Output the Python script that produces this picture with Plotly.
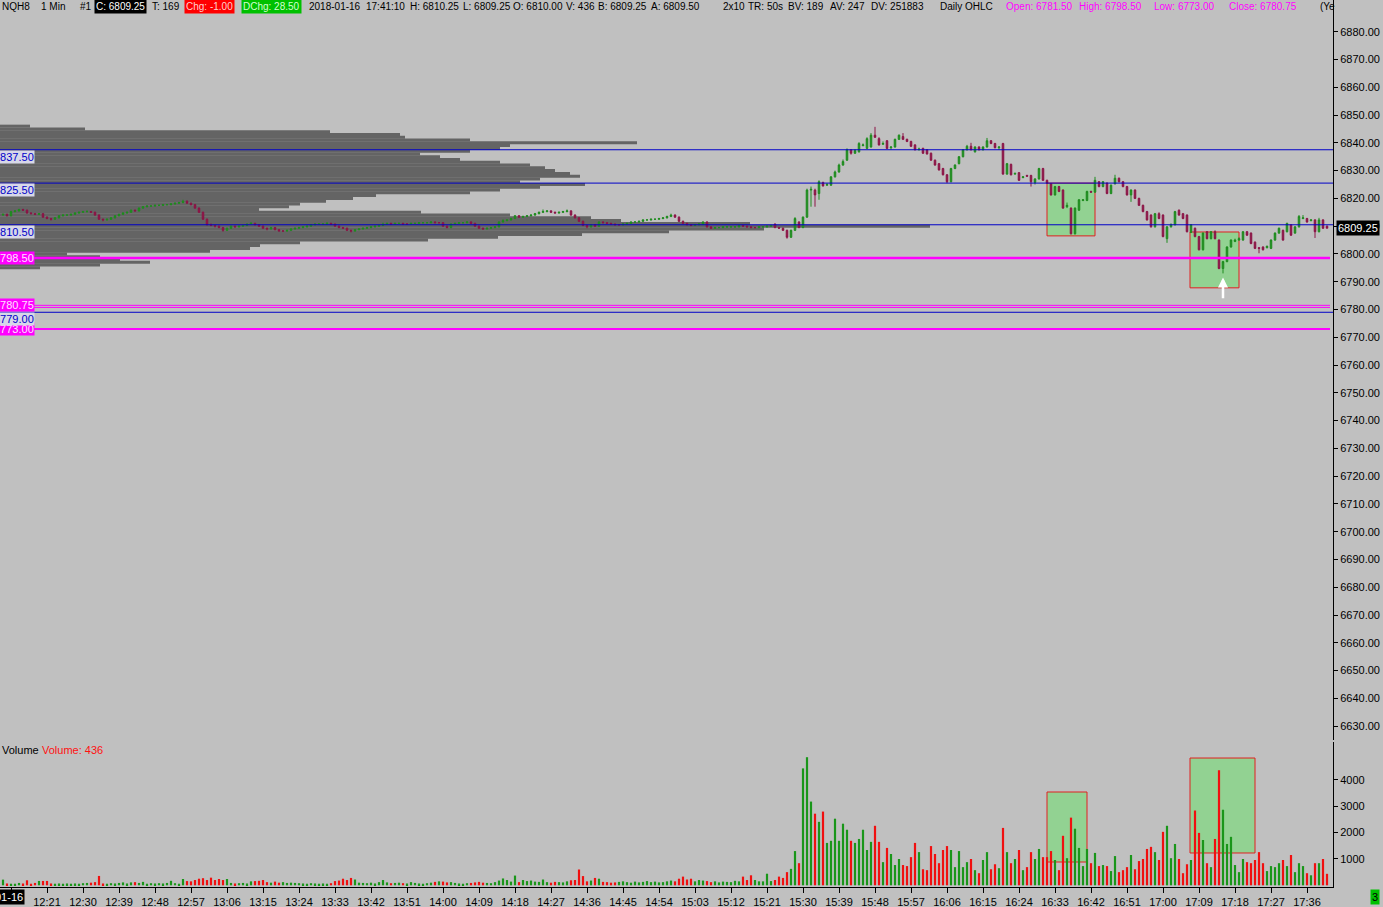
import plotly.graph_objects as go
import pandas as pd

# ---------------- data ----------------
SESSION_DATE = "2018-01-16"
FIRST_BAR = "12:10"          # first 1-minute bar shown

opens = [
 6814.0, 6814.25, 6813.75, 6815.25, 6815.5, 6816.0, 6815.75, 6814.75, 6814.5, 6814.25,
 6814.5, 6813.25, 6812.75, 6812.5, 6813.0, 6813.75, 6814.0, 6814.0, 6814.25, 6814.75,
 6815.0, 6815.25, 6815.25, 6815.0, 6814.0, 6812.5, 6812.25, 6812.5, 6813.0, 6813.75,
 6814.25, 6814.75, 6815.0, 6815.75, 6815.5, 6816.5, 6817.0, 6817.25, 6817.25, 6817.5,
 6817.5, 6817.75, 6817.75, 6818.0, 6818.25, 6818.5, 6819.0, 6818.25, 6817.75, 6816.5,
 6815.0, 6812.5, 6810.5, 6810.25, 6810.0, 6809.5, 6808.5, 6809.25, 6810.0, 6809.75,
 6810.0, 6810.25, 6810.75, 6811.0, 6810.5, 6810.0, 6809.25, 6809.0, 6809.5, 6808.75,
 6808.25, 6808.25, 6808.5, 6809.0, 6809.25, 6809.5, 6809.75, 6810.0, 6810.5, 6810.75,
 6810.75, 6810.75, 6811.0, 6810.75, 6810.0, 6809.5, 6809.25, 6808.5, 6808.25, 6808.75,
 6809.0, 6809.25, 6809.5, 6809.75, 6810.0, 6810.25, 6810.75, 6811.0, 6810.75, 6811.0,
 6811.0, 6810.75, 6810.75, 6811.0, 6811.0, 6811.25, 6811.25, 6811.25, 6811.5, 6811.25,
 6811.25, 6810.0, 6809.5, 6810.75, 6811.0, 6811.25, 6811.25, 6811.5, 6811.0, 6810.0,
 6809.25, 6809.0, 6809.25, 6809.5, 6809.75, 6811.5, 6812.0, 6812.25, 6812.75, 6813.75,
 6813.25, 6813.5, 6813.75, 6814.0, 6814.5, 6815.0, 6815.25, 6815.5, 6815.0, 6814.75,
 6815.0, 6815.25, 6815.5, 6814.0, 6813.0, 6811.75, 6810.25, 6809.75, 6810.5, 6810.0,
 6811.5, 6811.25, 6811.0, 6810.75, 6810.5, 6810.5, 6810.75, 6811.0, 6811.5, 6811.5,
 6811.75, 6812.25, 6812.25, 6812.5, 6812.5, 6812.75, 6813.0, 6813.5, 6814.0, 6813.25,
 6811.75, 6811.0, 6810.5, 6810.25, 6810.5, 6810.75, 6811.5, 6809.75, 6809.25, 6809.5,
 6809.5, 6809.75, 6809.75, 6809.75, 6809.75, 6810.25, 6810.0, 6809.75, 6809.5, 6809.5,
 6809.75, 6809.75, 6810.0,
 6810.75, 6809.5, 6809.25, 6808.5, 6806.0, 6808.5, 6811.5, 6809.5, 6813.25, 6823.0,
 6823.0, 6821.75, 6825.75, 6824.75, 6824.75, 6827.75, 6829.5, 6832.0, 6833.75, 6837.5,
 6836.25, 6836.75, 6839.0, 6838.0, 6838.5, 6842.75, 6841.5, 6839.5, 6840.75, 6838.25,
 6838.5, 6841.25, 6842.25, 6841.25, 6840.5, 6839.25, 6837.5, 6838.0, 6837.5, 6836.25,
 6833.75, 6832.5, 6830.75, 6828.5, 6826.0, 6830.75, 6832.5, 6835.0, 6837.5, 6838.75,
 6836.75, 6838.5, 6837.5, 6838.5, 6840.75, 6839.75, 6838.25, 6839.75, 6828.75, 6832.25,
 6828.75, 6829.25, 6827.5, 6828.25, 6828.25, 6825.75, 6827.0, 6830.75, 6826.5, 6825.25,
 6821.25, 6824.25, 6823.0, 6817.0, 6816.5, 6807.25, 6815.75, 6819.25, 6819.25, 6822.5,
 6822.25, 6826.0, 6824.25, 6825.5, 6821.75, 6825.25, 6827.25, 6826.0, 6824.25, 6821.25,
 6823.0, 6820.0, 6817.5, 6815.25, 6814.0, 6809.75, 6814.5, 6814.0, 6805.5, 6809.75,
 6810.5, 6815.75, 6814.5, 6814.0, 6807.75, 6809.25, 6806.25, 6801.5, 6808.0, 6805.5,
 6808.0, 6805.0, 6794.75, 6797.25, 6802.5, 6804.5, 6805.0, 6805.0, 6808.0, 6807.5,
 6804.25, 6802.25, 6802.5, 6802.25, 6802.0, 6805.0, 6807.5, 6808.5, 6808.0, 6810.5,
 6807.5, 6809.75, 6812.75, 6812.75, 6812.0, 6812.25, 6808.0, 6812.25, 6810.0,
]

highs = [
 6814.5, 6814.5, 6815.5, 6815.75, 6816.25, 6816.25, 6816.0, 6815.0, 6814.75, 6814.75,
 6814.75, 6813.5, 6813.0, 6813.25, 6814.0, 6814.25, 6814.25, 6814.5, 6815.0, 6815.25,
 6815.5, 6815.75, 6815.5, 6815.25, 6814.25, 6812.75, 6812.75, 6813.25, 6814.0, 6814.5,
 6815.0, 6815.25, 6816.0, 6816.0, 6816.75, 6817.25, 6817.5, 6817.5, 6817.75, 6817.75,
 6818.0, 6818.0, 6818.25, 6818.5, 6818.75, 6819.5, 6819.25, 6818.5, 6818.0, 6816.75,
 6815.25, 6812.75, 6811.0, 6810.5, 6810.25, 6809.75, 6809.5, 6810.25, 6810.25, 6810.25,
 6810.5, 6811.0, 6811.5, 6811.25, 6810.75, 6810.25, 6809.5, 6809.75, 6809.75, 6809.0,
 6808.5, 6808.75, 6809.25, 6809.5, 6809.75, 6810.0, 6810.25, 6810.75, 6811.0, 6811.0,
 6811.0, 6811.5, 6811.25, 6811.0, 6810.25, 6809.75, 6809.5, 6808.75, 6809.0, 6809.25,
 6809.5, 6809.75, 6810.0, 6810.25, 6810.5, 6811.25, 6811.25, 6811.25, 6811.25, 6811.25,
 6811.25, 6811.0, 6811.25, 6811.25, 6811.5, 6811.5, 6811.5, 6811.75, 6811.75, 6811.5,
 6811.5, 6810.25, 6811.0, 6811.25, 6811.5, 6811.5, 6811.75, 6811.75, 6811.25, 6810.25,
 6809.5, 6809.5, 6809.75, 6810.0, 6811.75, 6812.5, 6812.5, 6813.0, 6814.0, 6814.0,
 6813.75, 6814.0, 6814.25, 6814.75, 6815.25, 6816.0, 6815.75, 6815.75, 6815.25, 6815.25,
 6815.5, 6816.0, 6815.75, 6814.25, 6813.25, 6812.0, 6810.5, 6810.75, 6810.75, 6811.75,
 6811.75, 6811.5, 6811.25, 6811.0, 6810.75, 6811.0, 6811.25, 6811.75, 6811.75, 6812.0,
 6812.5, 6812.5, 6812.75, 6812.75, 6813.0, 6813.25, 6813.75, 6814.5, 6814.25, 6813.5,
 6812.0, 6811.25, 6810.75, 6810.75, 6811.0, 6811.75, 6811.75, 6810.0, 6809.75, 6809.75,
 6810.0, 6810.0, 6810.0, 6810.0, 6810.5, 6810.5, 6810.25, 6810.0, 6809.75, 6810.0,
 6810.0, 6810.25, 6810.5,
 6811.0, 6809.75, 6809.5, 6808.75, 6808.75, 6813.25, 6811.75, 6813.5, 6823.5, 6824.25,
 6823.5, 6826.5, 6826.0, 6825.5, 6828.0, 6830.0, 6832.5, 6834.0, 6838.0, 6837.75,
 6837.75, 6840.25, 6839.75, 6842.0, 6843.5, 6845.75, 6842.0, 6840.5, 6841.0, 6838.75,
 6841.5, 6843.0, 6843.5, 6841.5, 6840.75, 6839.5, 6838.25, 6838.25, 6837.75, 6836.5,
 6834.0, 6832.75, 6831.0, 6828.75, 6831.0, 6832.25, 6835.25, 6837.75, 6839.25, 6840.0,
 6838.75, 6838.75, 6838.75, 6841.75, 6841.0, 6840.0, 6838.75, 6840.0, 6832.75, 6832.5,
 6829.25, 6829.5, 6828.0, 6828.5, 6828.5, 6827.25, 6831.0, 6831.0, 6826.75, 6825.5,
 6824.5, 6824.5, 6823.25, 6818.5, 6816.75, 6816.75, 6819.75, 6819.75, 6822.75, 6822.75,
 6827.75, 6826.25, 6826.25, 6825.75, 6825.0, 6828.5, 6827.5, 6826.25, 6824.5, 6823.25,
 6823.25, 6820.25, 6817.75, 6815.5, 6814.25, 6814.75, 6815.0, 6814.25, 6810.0, 6811.0,
 6815.5, 6816.0, 6814.75, 6814.25, 6810.75, 6809.5, 6806.5, 6807.75, 6808.25, 6808.25,
 6808.5, 6805.25, 6797.5, 6802.75, 6805.25, 6805.5, 6806.0, 6808.25, 6808.25, 6807.75,
 6804.5, 6802.5, 6802.75, 6803.0, 6805.25, 6807.75, 6809.5, 6808.75, 6811.25, 6810.75,
 6810.0, 6814.0, 6814.0, 6813.0, 6812.5, 6812.5, 6813.0, 6812.5, 6810.25,
]

lows = [
 6813.75, 6813.5, 6813.5, 6815.0, 6815.25, 6815.5, 6814.5, 6814.25, 6814.0, 6814.0,
 6813.0, 6812.5, 6812.0, 6812.25, 6812.75, 6813.5, 6813.75, 6813.75, 6814.0, 6814.5,
 6814.75, 6815.0, 6814.75, 6813.75, 6812.25, 6811.75, 6812.0, 6812.25, 6812.75, 6813.5,
 6814.0, 6814.5, 6814.75, 6815.25, 6815.25, 6816.25, 6816.75, 6817.0, 6817.0, 6817.25,
 6817.25, 6817.5, 6817.5, 6817.75, 6818.0, 6818.25, 6818.0, 6817.5, 6816.25, 6814.75,
 6812.25, 6810.25, 6810.0, 6809.5, 6809.25, 6808.0, 6808.25, 6809.0, 6809.5, 6809.5,
 6809.75, 6810.0, 6810.5, 6810.25, 6809.75, 6809.0, 6808.5, 6808.75, 6808.5, 6808.0,
 6808.0, 6808.0, 6808.25, 6808.75, 6809.0, 6809.25, 6809.5, 6809.75, 6810.25, 6810.5,
 6810.5, 6810.5, 6810.5, 6809.75, 6809.25, 6809.0, 6808.25, 6807.75, 6808.0, 6808.5,
 6808.75, 6809.0, 6809.25, 6809.5, 6809.75, 6810.0, 6810.5, 6810.5, 6810.5, 6810.75,
 6810.5, 6810.5, 6810.5, 6810.75, 6810.75, 6811.0, 6811.0, 6811.0, 6811.0, 6811.0,
 6809.75, 6809.25, 6809.25, 6810.5, 6810.75, 6811.0, 6811.0, 6810.75, 6809.75, 6809.0,
 6808.75, 6808.75, 6809.0, 6809.25, 6809.5, 6811.25, 6811.75, 6812.0, 6812.5, 6813.0,
 6813.0, 6813.25, 6813.5, 6813.75, 6814.25, 6814.75, 6815.0, 6814.75, 6814.5, 6814.5,
 6814.75, 6815.0, 6813.75, 6812.75, 6811.5, 6810.0, 6809.25, 6809.5, 6809.75, 6809.75,
 6811.0, 6810.75, 6810.5, 6810.25, 6810.25, 6810.25, 6810.5, 6810.75, 6811.25, 6811.25,
 6811.5, 6812.0, 6812.0, 6812.25, 6812.25, 6812.5, 6812.75, 6813.25, 6813.0, 6811.5,
 6810.75, 6810.25, 6810.0, 6810.0, 6810.25, 6810.5, 6809.5, 6809.0, 6809.0, 6809.25,
 6809.25, 6809.5, 6809.5, 6809.5, 6809.5, 6809.75, 6809.5, 6809.25, 6809.25, 6809.25,
 6809.5, 6809.5, 6809.75,
 6809.25, 6809.0, 6808.25, 6805.5, 6805.75, 6808.25, 6809.25, 6809.25, 6813.0, 6817.0,
 6817.0, 6819.5, 6824.25, 6824.5, 6824.5, 6827.5, 6829.25, 6831.75, 6833.5, 6835.75,
 6836.0, 6836.5, 6838.75, 6837.75, 6838.25, 6841.75, 6839.0, 6839.25, 6837.75, 6837.5,
 6838.25, 6841.0, 6841.0, 6840.25, 6838.5, 6837.25, 6837.25, 6836.0, 6835.75, 6833.5,
 6831.75, 6830.0, 6828.25, 6825.5, 6825.75, 6830.5, 6832.25, 6834.75, 6837.25, 6837.25,
 6836.5, 6837.25, 6837.25, 6838.25, 6839.5, 6838.0, 6837.5, 6828.5, 6828.5, 6828.25,
 6828.5, 6826.25, 6827.25, 6827.75, 6824.25, 6825.0, 6826.75, 6826.25, 6825.25, 6821.0,
 6821.0, 6822.25, 6816.25, 6816.5, 6807.0, 6807.0, 6815.5, 6819.0, 6819.0, 6822.0,
 6822.0, 6824.0, 6824.0, 6821.5, 6821.5, 6825.0, 6825.75, 6824.0, 6821.0, 6818.75,
 6819.75, 6817.25, 6815.0, 6812.0, 6809.5, 6809.5, 6812.5, 6806.0, 6804.0, 6809.5,
 6810.25, 6813.75, 6812.5, 6807.75, 6807.5, 6806.0, 6801.25, 6801.25, 6805.25, 6805.25,
 6805.25, 6794.5, 6793.0, 6797.0, 6802.25, 6804.25, 6804.75, 6804.75, 6806.5, 6803.5,
 6801.75, 6800.25, 6801.25, 6802.0, 6801.75, 6804.75, 6807.25, 6804.75, 6807.75, 6806.5,
 6807.25, 6809.5, 6812.5, 6811.25, 6811.75, 6805.75, 6807.75, 6809.0, 6809.25,
]

closes = [
 6814.25, 6813.75, 6815.25, 6815.5, 6816.0, 6815.75, 6814.75, 6814.5, 6814.25, 6814.5,
 6813.25, 6812.75, 6812.5, 6813.0, 6813.75, 6814.0, 6814.0, 6814.25, 6814.75, 6815.0,
 6815.25, 6815.25, 6815.0, 6814.0, 6812.5, 6812.25, 6812.5, 6813.0, 6813.75, 6814.25,
 6814.75, 6815.0, 6815.75, 6815.5, 6816.5, 6817.0, 6817.25, 6817.25, 6817.5, 6817.5,
 6817.75, 6817.75, 6818.0, 6818.25, 6818.5, 6819.0, 6818.25, 6817.75, 6816.5, 6815.0,
 6812.5, 6810.5, 6810.25, 6810.0, 6809.5, 6808.5, 6809.25, 6810.0, 6809.75, 6810.0,
 6810.25, 6810.75, 6811.0, 6810.5, 6810.0, 6809.25, 6809.0, 6809.5, 6808.75, 6808.25,
 6808.25, 6808.5, 6809.0, 6809.25, 6809.5, 6809.75, 6810.0, 6810.5, 6810.75, 6810.75,
 6810.75, 6811.0, 6810.75, 6810.0, 6809.5, 6809.25, 6808.5, 6808.25, 6808.75, 6809.0,
 6809.25, 6809.5, 6809.75, 6810.0, 6810.25, 6810.75, 6811.0, 6810.75, 6811.0, 6811.0,
 6810.75, 6810.75, 6811.0, 6811.0, 6811.25, 6811.25, 6811.25, 6811.5, 6811.25, 6811.25,
 6810.0, 6809.5, 6810.75, 6811.0, 6811.25, 6811.25, 6811.5, 6811.0, 6810.0, 6809.25,
 6809.0, 6809.25, 6809.5, 6809.75, 6811.5, 6812.0, 6812.25, 6812.75, 6813.75, 6813.25,
 6813.5, 6813.75, 6814.0, 6814.5, 6815.0, 6815.25, 6815.5, 6815.0, 6814.75, 6815.0,
 6815.25, 6815.5, 6814.0, 6813.0, 6811.75, 6810.25, 6809.75, 6810.5, 6810.0, 6811.5,
 6811.25, 6811.0, 6810.75, 6810.5, 6810.5, 6810.75, 6811.0, 6811.5, 6811.5, 6811.75,
 6812.25, 6812.25, 6812.5, 6812.5, 6812.75, 6813.0, 6813.5, 6814.0, 6813.25, 6811.75,
 6811.0, 6810.5, 6810.25, 6810.5, 6810.75, 6811.5, 6809.75, 6809.25, 6809.5, 6809.5,
 6809.75, 6809.75, 6809.75, 6809.75, 6810.25, 6810.0, 6809.75, 6809.5, 6809.5, 6809.75,
 6809.75, 6810.0, 6810.25,
 6809.5, 6809.25, 6808.5, 6806.0, 6808.5, 6812.75, 6809.5, 6813.25, 6823.0, 6823.25,
 6821.25, 6826.0, 6824.5, 6825.0, 6827.75, 6829.5, 6832.0, 6833.25, 6837.5, 6836.25,
 6837.25, 6839.75, 6839.25, 6841.5, 6842.75, 6842.0, 6839.25, 6839.75, 6838.0, 6838.5,
 6841.25, 6842.75, 6841.25, 6840.5, 6838.75, 6837.5, 6837.75, 6836.25, 6836.0, 6833.75,
 6832.0, 6830.25, 6828.5, 6826.0, 6830.75, 6832.0, 6835.0, 6837.5, 6838.75, 6837.5,
 6838.5, 6837.5, 6838.5, 6840.75, 6839.75, 6838.25, 6838.5, 6828.75, 6832.5, 6828.5,
 6829.0, 6826.5, 6827.75, 6828.0, 6826.0, 6827.0, 6830.75, 6826.5, 6825.5, 6821.25,
 6824.25, 6822.5, 6816.5, 6817.5, 6807.25, 6816.5, 6819.5, 6819.5, 6822.5, 6822.25,
 6826.5, 6824.25, 6826.0, 6821.75, 6824.75, 6827.25, 6826.0, 6824.25, 6821.25, 6823.0,
 6820.0, 6817.5, 6815.25, 6812.25, 6809.75, 6814.5, 6812.75, 6806.25, 6809.75, 6810.5,
 6815.25, 6814.0, 6812.75, 6808.0, 6810.5, 6806.25, 6801.5, 6807.5, 6805.5, 6808.0,
 6805.5, 6794.75, 6797.25, 6802.5, 6805.0, 6805.0, 6805.5, 6808.0, 6806.75, 6803.75,
 6802.0, 6802.0, 6801.5, 6802.75, 6805.0, 6807.5, 6809.25, 6805.0, 6811.0, 6806.75,
 6809.75, 6813.5, 6813.0, 6811.5, 6812.25, 6808.0, 6812.25, 6809.25, 6809.25,
]

volumes = [
 215, 70, 60, 60, 90, 70, 190, 60, 90, 165,
 165, 165, 70, 60, 70, 60, 70, 60, 70, 60,
 80, 90, 100, 120, 355, 70, 60, 80, 70, 90,
 110, 70, 110, 120, 90, 130, 60, 80, 70, 80,
 70, 90, 170, 80, 60, 240, 160, 150, 200, 250,
 270, 200, 290, 200, 240, 200, 240, 90, 70, 80,
 90, 70, 150, 160, 170, 200, 120, 100, 140, 100,
 120, 90, 100, 90, 80, 70, 60, 80, 70, 60,
 70, 60, 80, 160, 180, 250, 200, 280, 220, 100,
 90, 80, 100, 70, 120, 200, 110, 80, 90, 100,
 80, 70, 120, 90, 70, 60, 80, 100, 130, 150,
 140, 110, 120, 90, 70, 60, 80, 90, 110, 130,
 100, 90, 80, 120, 180, 260, 200, 140, 370, 120,
 200, 160, 180, 140, 130, 220, 120, 100, 130, 120,
 110, 150, 190, 200, 600, 350, 150, 180, 280, 250,
 130, 120, 100, 110, 130, 150, 120, 100, 140, 110,
 130, 160, 120, 140, 110, 120, 150, 180, 150, 250,
 330, 220, 250, 150, 200, 180, 160, 120, 150, 110,
 140, 130, 120, 170, 150, 330, 200, 380, 200, 150,
 150, 440, 160, 200, 330,
 280, 500, 625, 1300, 840, 4440, 4865, 3180, 2720, 2410,
 2800, 1610, 1690, 2530, 1690, 2340, 2110, 1690, 1610, 1760,
 2110, 1340, 1650, 2260, 1650, 880, 1420, 1190, 770, 1000,
 770, 730, 1070, 1610, 1260, 610, 575, 1490, 1190, 840,
 1340, 1490, 1340, 690, 1300, 690, 880, 1000, 575, 460,
 960, 1260, 610, 800, 650, 2180, 1260, 840, 1000, 1340,
 575, 690, 1260, 1000, 1380, 1070, 1070, 1300, 960, 575,
 1880, 1030, 2570, 2150, 1420, 730, 1380, 840, 1230, 730,
 770, 730, 540, 1110, 500, 575, 690, 1150, 610, 920,
 1000, 1380, 1460, 1260, 960, 2030, 2260, 1030, 1570, 1000,
 460, 800, 960, 2840, 1990, 1720, 840, 690, 1760, 4370,
 2870, 1570, 1840, 770, 500, 1000, 880, 840, 960, 1260,
 840, 540, 730, 690, 840, 960, 730, 1150, 500, 840,
 730, 460, 380, 840, 840, 1000, 436,
]

# volume-at-price profile (price row, relative traded volume)
profile_prices = [
 6846, 6845, 6844, 6843, 6842, 6841, 6840, 6839, 6838, 6837,
 6836, 6835, 6834, 6833, 6832, 6831, 6830, 6829, 6828, 6827,
 6826, 6825, 6824, 6823, 6822, 6821, 6820, 6819, 6818, 6817,
 6816, 6815, 6814, 6813, 6812, 6811, 6810, 6809, 6808, 6807,
 6806, 6805, 6804, 6803, 6802, 6801, 6800, 6799, 6798, 6797,
 6796, 6795,
]
profile_volume = [
 30, 85, 330, 400, 405, 470, 637, 510, 500, 470,
 420, 440, 460, 500, 530, 545, 555, 570, 580, 540,
 520, 585, 540, 500, 470, 376, 353, 326, 300, 289,
 259, 421, 510, 591, 621, 750, 930, 764, 669, 582,
 498, 428, 300, 260, 250, 210, 67, 100, 120, 150,
 100, 40,
]

blue_levels = [6837.50, 6825.50, 6810.50, 6779.00]
magenta_levels = [6798.50, 6781.50, 6780.75, 6773.00]
magenta_widths = [2.5, 1, 1, 2]

# highlighted zones: (start time, end time, low, high)
price_boxes = [("16:31:00", "16:43:00", 6806.5, 6825.5),
               ("17:06:45", "17:19:00", 6787.8, 6807.9)]
volume_boxes = [("16:31:00", "16:41:00", 885, 3543),
                ("17:06:45", "17:23:00", 1227, 4834)]
arrow_time, arrow_tail, arrow_tip = "17:15:00", 6783.5, 6791.5

last_price = 6809.25
price_ticks = list(range(6630, 6881, 10))
volume_ticks = [1000, 2000, 3000, 4000]
x_range = ("12:09:15", "17:42:30")
x_tick0 = "12:21"
x_tick_minutes = 9

header_items = [  # (text, left px, font colour, background)
    ("NQH8", 0, "black", None), ("1 Min", 39, "black", None), ("#1", 78, "black", None),
    ("C: 6809.25", 94, "white", "black"), ("T: 169", 150, "black", None),
    ("Chg: -1.00", 184, "#FFD0D0", "#FF0000"), ("DChg: 28.50", 241, "#D0FFD0", "#00C000"),
    ("2018-01-16", 307, "black", None), ("17:41:10", 364, "black", None),
    ("H: 6810.25", 408, "black", None), ("L: 6809.25", 461, "black", None),
    ("O: 6810.00", 511, "black", None), ("V: 436", 564, "black", None),
    ("B: 6809.25", 596, "black", None), ("A: 6809.50", 649, "black", None),
    ("2x10", 721, "black", None), ("TR: 50s", 746, "black", None),
    ("BV: 189", 786, "black", None), ("AV: 247", 828, "black", None),
    ("DV: 251883", 869, "black", None), ("Daily OHLC", 938, "black", None),
    ("Open: 6781.50", 1004, "#FF00FF", None), ("High: 6798.50", 1077, "#FF00FF", None),
    ("Low: 6773.00", 1152, "#FF00FF", None), ("Close: 6780.75", 1227, "#FF00FF", None),
    ("(Ye", 1318, "black", None),
]

assert len(opens) == len(highs) == len(lows) == len(closes) == len(volumes)

# ---------------- layout constants ----------------
W, H = 1383, 907
ML, MR, MT, MB = 0, 50, 0, 20
PW, PH = W - ML - MR, H - MT - MB
BG = "#C0C0C0"
FONT = "Liberation Sans, Arial, sans-serif"
FS = 11
HFS = 10
UP, DN = "#1E8C1E", "#8C1446"
VUP, VDN = "#1A961A", "#F01010"
BLUE, MAG = "#0000C8", "#FF00FF"

def t(hm):
    return pd.Timestamp(f"{SESSION_DATE} {hm}")

def px(xpix):
    return xpix / PW

times = pd.date_range(t(FIRST_BAR), periods=len(closes), freq="1min")
vol_colors = [VUP if c >= o else VDN for o, c in zip(opens, closes)]
xr = [t(x_range[0]), t(x_range[1])]
ms_per_unit = (xr[1] - xr[0]).total_seconds() * 1000 / PW   # profile unit -> axis length

fig = go.Figure()

# profile drawn as horizontal bars starting at the left edge of the time axis
fig.add_trace(go.Bar(
    x=[v * ms_per_unit for v in profile_volume], y=profile_prices, base=[xr[0]] * len(profile_prices),
    orientation="h", width=1.08, marker=dict(color="#646464", line=dict(width=0)),
    xaxis="x", yaxis="y", hoverinfo="skip", showlegend=False))

fig.add_trace(go.Bar(
    x=times, y=volumes, width=33000, marker=dict(color=vol_colors, line=dict(width=0)),
    xaxis="x", yaxis="y2", hoverinfo="skip", showlegend=False))

fig.add_trace(go.Candlestick(
    x=times, open=opens, high=highs, low=lows, close=closes,
    increasing=dict(line=dict(color=UP, width=1), fillcolor=UP),
    decreasing=dict(line=dict(color=DN, width=1), fillcolor=DN),
    whiskerwidth=0, xaxis="x", yaxis="y", hoverinfo="skip", showlegend=False))

shapes = []
for (a, b, lo, hi) in price_boxes:
    shapes.append(dict(type="rect", xref="x", yref="y", x0=t(a), x1=t(b), y0=lo, y1=hi,
                       fillcolor="#92D292", line=dict(color="#E02020", width=1), layer="below"))
for (a, b, lo, hi) in volume_boxes:
    shapes.append(dict(type="rect", xref="x", yref="y2", x0=t(a), x1=t(b), y0=lo, y1=hi,
                       fillcolor="#92D292", line=dict(color="#E02020", width=1), layer="below"))
for lv in blue_levels:
    shapes.append(dict(type="line", xref="paper", yref="y", x0=0, x1=1, y0=lv, y1=lv,
                       line=dict(color=BLUE, width=1), layer="above"))
for lv, lw in zip(magenta_levels, magenta_widths):
    shapes.append(dict(type="line", xref="paper", yref="y", x0=0, x1=px(1330), y0=lv, y1=lv,
                       line=dict(color=MAG, width=lw), layer="above"))

ann = []
for text, xl, col, bg in header_items:
    a = dict(text=text, xref="paper", yref="paper", x=px(xl), y=1, xanchor="left", yanchor="top",
             showarrow=False, font=dict(family=FONT, size=HFS, color=col), borderpad=1, yshift=1)
    if bg:
        a["bgcolor"] = bg
    ann.append(a)

# left-side level labels
left_labels = [
    (6837.50, "6837.50", BLUE, "#D8D8E8", "top"),
    (6825.50, "6825.50", BLUE, "#D8D8E8", "top"),
    (6810.50, "6810.50", BLUE, "#D8D8E8", "top"),
    (6798.50, "6798.50", "#FFE0FF", MAG, "middle"),
    (6781.50, "6780.75", "#FFE0FF", MAG, "middle"),
    (6773.00, "6773.00", "#FFE0FF", MAG, "middle"),
    (6779.00, "6779.00", BLUE, "#D8D8E8", "top"),
]
for y, text, col, bg, ya in left_labels:
    ann.append(dict(text=text, xref="paper", yref="y", x=px(35), y=y, xanchor="right", yanchor=ya,
                    showarrow=False, font=dict(family=FONT, size=FS, color=col),
                    bgcolor=bg, borderpad=0))

ann.append(dict(text=f"{last_price:.2f}", xref="paper", yref="y", x=1, xshift=3, y=last_price,
                xanchor="left", yanchor="middle", showarrow=False, bgcolor="black",
                font=dict(family=FONT, size=FS, color="white"), borderpad=1))

ann.append(dict(text="", xref="x", yref="y", x=t(arrow_time), y=arrow_tip,
                axref="x", ayref="y", ax=t(arrow_time), ay=arrow_tail, showarrow=True,
                arrowhead=2, arrowsize=0.8, arrowwidth=2.5, arrowcolor="white"))

vol_label_y = (PH - 750) / PH
ann.append(dict(text="Volume", xref="paper", yref="paper", x=0, y=vol_label_y, xanchor="left",
                yanchor="middle", showarrow=False, font=dict(family=FONT, size=FS, color="black")))
ann.append(dict(text=f"Volume: {volumes[-1]}", xref="paper", yref="paper", x=px(40), y=vol_label_y,
                xanchor="left", yanchor="middle", showarrow=False,
                font=dict(family=FONT, size=FS, color="#FF1010")))

ann.append(dict(text="01-16", xref="paper", yref="paper", x=px(25), y=-10 / PH, xanchor="right",
                yanchor="middle", showarrow=False, bgcolor="black", borderpad=1,
                font=dict(family=FONT, size=FS, color="white")))
ann.append(dict(text="3", xref="paper", yref="paper", x=px(1370), y=-10 / PH, xanchor="left",
                yanchor="middle", showarrow=False, bgcolor="#00C000", borderpad=1,
                font=dict(family=FONT, size=FS, color="black")))

# pixel-calibrated ranges
price_bottom_px, price_top_px = 740, 0
p_per_px = 1 / 2.778
y6880 = 31.7
price_range = [6880 - (price_bottom_px - y6880) * p_per_px, 6880 + (y6880 - price_top_px) * p_per_px]
vol_zero_px, vol_px_per_k = 885.3, 26.33
vol_range = [-(887 - vol_zero_px) / vol_px_per_k * 1000, (vol_zero_px - 742) / vol_px_per_k * 1000]

axis_font = dict(family=FONT, size=FS, color="black")
fig.update_layout(
    width=W, height=H, margin=dict(l=ML, r=MR, t=MT, b=MB),
    paper_bgcolor=BG, plot_bgcolor=BG, showlegend=False, barmode="overlay",
    boxgap=0.45,
    xaxis=dict(type="date", range=xr, anchor="y2",
               tick0=t(x_tick0), dtick=x_tick_minutes * 60000, tickformat="%H:%M",
               showgrid=False, zeroline=False, showline=True, linecolor="black", linewidth=1,
               ticks="outside", ticklen=5, tickcolor="black", tickfont=axis_font,
               rangeslider=dict(visible=False), fixedrange=True),
    yaxis=dict(domain=[(PH - price_bottom_px) / PH, 1], range=price_range, side="right",
               anchor="x", tickvals=price_ticks, tickformat=".2f", showgrid=False,
               zeroline=False, showline=True, linecolor="black", linewidth=1,
               ticks="outside", ticklen=4, tickcolor="black", tickfont=axis_font),
    yaxis2=dict(domain=[0, (PH - 742) / PH], range=vol_range, side="right", anchor="x",
                tickvals=volume_ticks, showgrid=False, zeroline=False, showline=True,
                linecolor="black", linewidth=1, ticks="outside", ticklen=4, tickcolor="black",
                tickfont=axis_font),
    shapes=shapes, annotations=ann,
)

fig.write_html("out.html", config={"displayModeBar": False},
               post_script="document.body.style.margin='0';")
